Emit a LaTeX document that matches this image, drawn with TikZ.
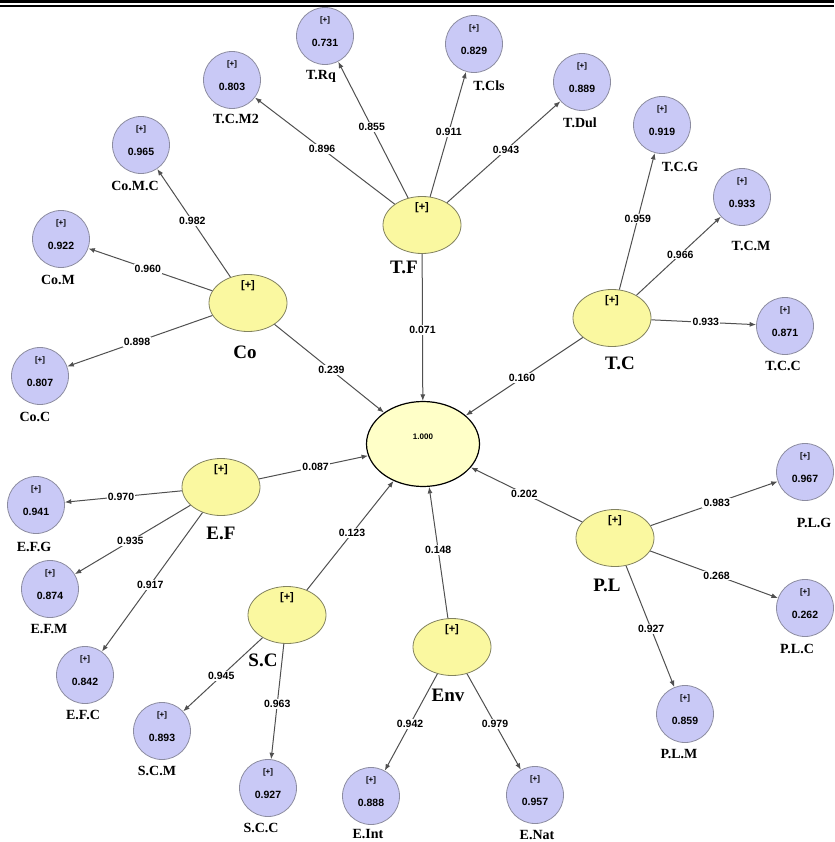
\documentclass[tikz,border=0pt]{standalone}
\usepackage{fontspec}
\setmainfont{Liberation Serif}
\setsansfont{Liberation Sans}
\usepackage{tikz}
\usetikzlibrary{shapes.geometric,arrows.meta}
\definecolor{lavender}{RGB}{201,201,246}
\definecolor{lavenderedge}{RGB}{140,140,160}
\definecolor{yellowfill}{RGB}{250,248,160}
\definecolor{yellowedge}{RGB}{130,130,95}
\definecolor{targetfill}{RGB}{255,255,200}
\definecolor{linegray}{RGB}{80,80,80}

\begin{document}
\begin{tikzpicture}[x=1pt, y=-1pt,
 indicator/.style={circle, draw=lavenderedge, fill=lavender, line width=0.8pt,
   minimum size=57pt, inner sep=0pt},
 construct/.style={ellipse, draw=yellowedge, fill=yellowfill, line width=0.8pt,
   minimum width=78pt, minimum height=57pt, inner sep=0pt},
 target/.style={ellipse, draw=black, fill=targetfill, line width=1.2pt,
   minimum width=113pt, minimum height=85pt, inner sep=0pt},
 plus/.style={font=\sffamily\bfseries\fontsize{8}{8}\selectfont, inner sep=0pt},
 bigplus/.style={font=\sffamily\bfseries\fontsize{11}{11}\selectfont, inner sep=0pt},
 value/.style={font=\sffamily\bfseries\fontsize{10.5}{10.5}\selectfont, inner sep=0pt},
 names/.style={font=\bfseries\fontsize{14}{14}\selectfont, inner sep=0pt},
 bignames/.style={font=\bfseries\fontsize{19}{19}\selectfont, inner sep=0pt},
 loading/.style={draw=linegray, line width=1pt, -{Latex[length=6.5pt,width=5pt]}},
 weight/.style={pos=0.52, fill=white, inner sep=1.2pt,
   font=\sffamily\bfseries\fontsize{10.5}{10.5}\selectfont}]

\useasboundingbox (0,0) rectangle (834,842);

% double rule at the top
\fill[black] (0,0) rectangle (834,3.3);
\fill[black] (0,4.7) rectangle (834,6.7);

% central latent variable
\node[target] (cen) at (423,444) {};
\node[font=\sffamily\bfseries\fontsize{8}{8}\selectfont] (cenval) at (423,437) {1.000};

% yellow constructs with their names
\foreach \name/\x/\y/\lx/\ly/\txt in {
  TF/422/225/404/267/T.F, Co/248/303/245/352/Co, TC/612/318/620/363/T.C,
  EF/221/487/221/533/E.F, SC/287/615/263/660/S.C, Env/452/647/448/695/Env,
  PL/615/538/607/585/P.L}
  {
   \node[construct] (\name) at (\x,\y) {};
   \path (\name.center) +(0,-17) node[bigplus] (\name-plus) {[+]};
   \node[bignames] (\name-name) at (\lx,\ly) {\txt};
  }

% blue indicator circles
\foreach \name/\x/\y/\val/\lx/\ly/\txt in {
  TRq/325/36/0.731/321/76/T.Rq, TCMtwo/232/80/0.803/236/119/T.C.M2,
  TCls/474/44/0.829/489/86/T.Cls, TDul/582/82/0.889/580/123/T.Dul,
  TCG/662/125/0.919/680/167/T.C.G, TCM/742/197/0.933/751/246/T.C.M,
  TCC/785/326/0.871/783/366/T.C.C, CoMC/141/145/0.965/135/186/Co.M.C,
  CoM/61/239/0.922/58/280/Co.M, CoC/40/376/0.807/35/417/Co.C,
  EFG/36/505/0.941/34/547/E.F.G, EFM/50/589/0.874/49/629/E.F.M,
  EFC/85/675/0.842/83/715/E.F.C, SCM/162/731/0.893/157/771/S.C.M,
  SCC/268/788/0.927/261/828/S.C.C, EInt/371/796/0.888/368/834/E.Int,
  ENat/535/795/0.957/537/835/E.Nat, PLM/685/714/0.859/679/754/P.L.M,
  PLC/805/608/0.262/797/649/P.L.C, PLG/805/472/0.967/814/523/P.L.G}
  {
   \node[indicator] (\name) at (\x,\y) {};
   \path (\name.center) +(0,-16) node[plus] (\name-plus) {[+]}
                        +(0,7) node[value] (\name-val) {\val};
   \node[names] (\name-name) at (\lx,\ly) {\txt};
  }

%% outer loadings
\foreach \a/\b/\w in {
  Co/CoMC/0.982, Co/CoM/0.960, Co/CoC/0.898,
  TF/TCMtwo/0.896, TF/TRq/0.855, TF/TCls/0.911, TF/TDul/0.943,
  TC/TCG/0.959, TC/TCM/0.966, TC/TCC/0.933,
  EF/EFG/0.970, EF/EFM/0.935, EF/EFC/0.917,
  SC/SCM/0.945, SC/SCC/0.963,
  Env/EInt/0.942, Env/ENat/0.979,
  PL/PLG/0.983, PL/PLC/0.268, PL/PLM/0.927}
  {
   \draw[loading] (\a) -- node[weight] {\w} (\b);
  }

%% path coefficients into the centre
\foreach \a/\w in {Co/0.239, TF/0.071, TC/0.160, EF/0.087, SC/0.123, Env/0.148, PL/0.202}
  {
   \draw[loading] (\a) -- node[weight] {\w} (cen);
  }

\end{tikzpicture}
\end{document}
